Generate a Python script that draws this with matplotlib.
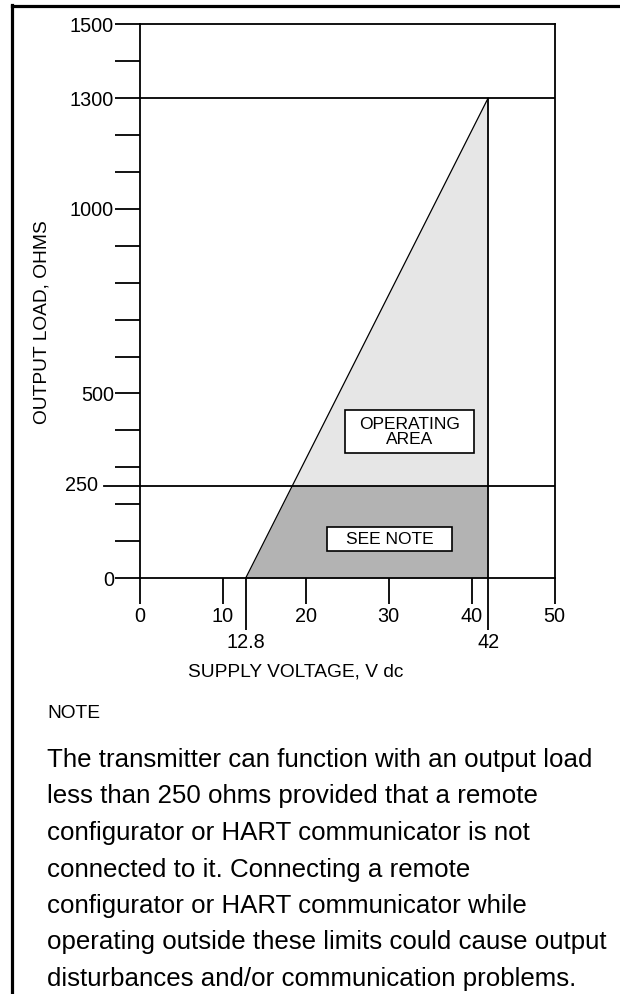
import numpy as np
import matplotlib
matplotlib.use("Agg")
import matplotlib.pyplot as plt
from matplotlib.patches import Rectangle
from matplotlib.lines import Line2D

plt.rcParams['font.family'] = ['Liberation Sans', 'DejaVu Sans']

# ---- data ----
supply_v = [12.8, 42.0]          # boundary line, V dc
load_ohm = [0.0, 1300.0]         # boundary line, ohms
v_max = 42.0
load_max = 1300.0
hart_min_load = 250.0
x_ticks = [0, 10, 20, 30, 40, 50]
x_extra_ticks = [12.8, 42]
x_extra_labels = ["12.8", "42"]
y_label_ticks = [0, 500, 1000, 1300, 1500]
y_minor_ticks = [100, 200, 300, 400, 600, 700, 800, 900, 1100, 1200, 1400]
y_250_label = "250"
note_lines = [
    "The transmitter can function with an output load",
    "less than 250 ohms provided that a remote",
    "configurator or HART communicator is not",
    "connected to it. Connecting a remote",
    "configurator or HART communicator while",
    "operating outside these limits could cause output",
    "disturbances and/or communication problems.",
]

W, H = 620, 994
fig = plt.figure(figsize=(W / 100, H / 100), dpi=100)
fig.patch.set_facecolor('white')

def fx(px):
    return px / W

def fy(py):
    return 1 - py / H

ax = fig.add_axes([fx(139.5), fy(578), (554.5 - 139.5) / W, (578 - 24.3) / H])
ax.set_xlim(0, 50)
ax.set_ylim(0, 1500)
for s in ax.spines.values():
    s.set_linewidth(1.3)

LIGHT = '#e6e6e6'
DARK = '#b3b3b3'
TICK_FS = 14.3

# operating area (light)
ax.fill_betweenx(load_ohm, supply_v, v_max, color=LIGHT, zorder=1, lw=0)
# area below 250 ohms (dark)
x250 = np.interp(hart_min_load, load_ohm, supply_v)
ax.fill_betweenx([0, hart_min_load], [supply_v[0], x250], v_max, color=DARK, zorder=1.1, lw=0)

ax.plot(supply_v, load_ohm, color='black', lw=0.9, zorder=3)
ax.vlines(v_max, 0, load_max, color='black', lw=1.3, zorder=3)
ax.axhline(load_max, color='black', lw=1.3, zorder=3)
ax.axhline(hart_min_load, color='black', lw=1.3, zorder=3)
ax.plot([-0.085, 0], [hart_min_load, hart_min_load], transform=ax.get_yaxis_transform(),
        color='black', lw=1.3, clip_on=False, zorder=3)
ax.text(-0.1, hart_min_load, y_250_label, transform=ax.get_yaxis_transform(),
        ha='right', va='center', fontsize=TICK_FS)

# y ticks
ax.set_yticks(y_label_ticks)
ax.set_yticks(y_minor_ticks, minor=True)
ax.tick_params(axis='y', which='both', direction='out', length=18, width=1.3,
               pad=0.5, labelsize=TICK_FS)
# x ticks
ax.set_xticks(x_ticks)
ax.set_xticks(x_extra_ticks, minor=True)
ax.set_xticklabels([str(v) for v in x_ticks])
ax.set_xticklabels(x_extra_labels, minor=True)
ax.tick_params(axis='x', which='major', direction='out', length=18.7, width=1.3,
               pad=2.5, labelsize=TICK_FS)
ax.tick_params(axis='x', which='minor', direction='out', length=37.4, width=1.3,
               pad=2.0, labelsize=TICK_FS)

# label boxes
ax.add_patch(Rectangle((24.76, 338.6), 40.3 - 24.76, 455 - 338.6, facecolor='white',
                       edgecolor='black', lw=1.2, zorder=4))
ax.text((24.76 + 40.3) / 2, (338.6 + 455) / 2, "OPERATING\nAREA", ha='center', va='center',
        fontsize=12.5, linespacing=1.0, zorder=5)
ax.add_patch(Rectangle((22.6, 73), 37.65 - 22.6, 138 - 73, facecolor='white',
                       edgecolor='black', lw=1.2, zorder=4))
ax.text((22.6 + 37.65) / 2, (73 + 138) / 2, "SEE NOTE", ha='center', va='center',
        fontsize=12.5, zorder=5)

# axis titles
fig.text(fx(42), fy(322), "OUTPUT LOAD, OHMS", rotation=90, ha='center', va='center', fontsize=13.8)
fig.text(fx(296), fy(672), "SUPPLY VOLTAGE, V dc", ha='center', va='center', fontsize=13.8)

# note
fig.text(fx(47), fy(713), "NOTE", ha='left', va='center', fontsize=13.8)
for i, line in enumerate(note_lines):
    fig.text(fx(47), fy(760 + i * 36.5), line, ha='left', va='center', fontsize=18.6)

# page border (top & left)
fig.add_artist(Line2D([fx(12), 1.0], [fy(6), fy(6)], transform=fig.transFigure, color='black', lw=2.3))
fig.add_artist(Line2D([fx(12), fx(12)], [fy(5), 0.0], transform=fig.transFigure, color='black', lw=2.3))

fig.savefig("out.png", dpi=100)
